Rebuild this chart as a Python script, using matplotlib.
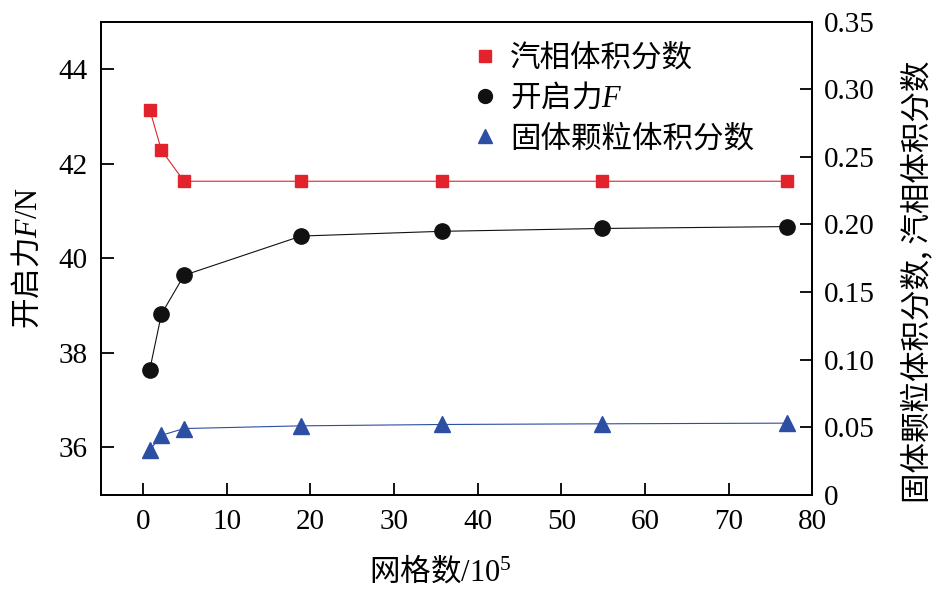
import matplotlib
matplotlib.use('Agg')
import matplotlib.pyplot as plt
from matplotlib.lines import Line2D

plt.rcParams['font.family'] = ['Liberation Serif', 'Noto Sans CJK SC']
plt.rcParams['mathtext.fontset'] = 'custom'
plt.rcParams['mathtext.rm'] = 'Noto Sans CJK SC'
plt.rcParams['mathtext.it'] = 'Liberation Serif:italic'
plt.rcParams['mathtext.sf'] = 'Liberation Serif'

# grid count (x 10^5)
grid = [0.8, 2.2, 4.9, 18.9, 35.7, 54.8, 77.0]
# opening force F / N (left axis)
force = [37.64, 38.82, 39.64, 40.47, 40.57, 40.63, 40.67]
# vapour volume fraction (right axis)
vapour = [0.285, 0.255, 0.232, 0.232, 0.232, 0.232, 0.232]
# solid particle volume fraction (right axis)
solid = [0.033, 0.044, 0.049, 0.051, 0.052, 0.0525, 0.053]

left_ticks = [36, 38, 40, 42, 44]
right_ticks = [0, 0.05, 0.10, 0.15, 0.20, 0.25, 0.30, 0.35]
right_labels = ['0', '0.05', '0.10', '0.15', '0.20', '0.25', '0.30', '0.35']
x_ticks = [0, 10, 20, 30, 40, 50, 60, 70, 80]

red = '#e3232b'
black = '#111111'
blue = '#2c4ea3'
cjk = ['Noto Sans CJK SC']

fig = plt.figure(figsize=(9.37, 5.89), dpi=100)
ax = fig.add_axes([0.108, 0.16, 0.759, 0.803])
ax2 = ax.twinx()

ax.plot(grid, force, color=black, lw=0.8, marker='o', ms=11, mec=black, mfc=black, zorder=3)
ax2.plot(grid, vapour, color=red, lw=0.8, marker='s', ms=8.5, mec=red, mfc=red)
ax2.plot(grid, solid, color=blue, lw=0.8, marker='^', ms=11, mec=blue, mfc=blue)

ax.set_xlim(-5, 80)
ax.set_ylim(35, 45)
ax2.set_ylim(0, 0.35)
ax.set_xticks(x_ticks)
ax.set_yticks(left_ticks)
ax2.set_yticks(right_ticks)
ax2.set_yticklabels(right_labels)

for a in (ax, ax2):
    a.tick_params(direction='in', length=9, width=1.3, labelsize=21)
    for s in a.spines.values():
        s.set_linewidth(1.3)
ax.tick_params(axis='y', pad=10)
ax.tick_params(axis='x', pad=10)
ax2.tick_params(axis='y', pad=8)

ax.set_xlabel('网格数$\\mathsf{/10}^{\\mathsf{5}}$', fontsize=22, labelpad=14, family=cjk)
ax.xaxis.label.set_x(0.477)
ax.set_ylabel('开启力$\\mathit{F}\\mathsf{/N}$', fontsize=22, labelpad=10, family=cjk)
ax2.set_ylabel('固体颗粒体积分数, 汽相体积分数', fontsize=22, family=cjk)
ax2.yaxis.set_label_coords(1.125, 0.45)

handles = [
    Line2D([], [], ls='none', marker='s', ms=8.5, color=red),
    Line2D([], [], ls='none', marker='o', ms=10, color=black),
    Line2D([], [], ls='none', marker='^', ms=10, color=blue),
]
labels = ['汽相体积分数', '开启力$\\mathit{F}$', '固体颗粒体积分数']
ax2.legend(handles, labels, loc='upper left', bbox_to_anchor=(0.48, 1.015),
           frameon=False, handlelength=1.0, handletextpad=0.3,
           labelspacing=0.3, prop={'family': cjk, 'size': 22})

fig.savefig('out.png', dpi=100)
